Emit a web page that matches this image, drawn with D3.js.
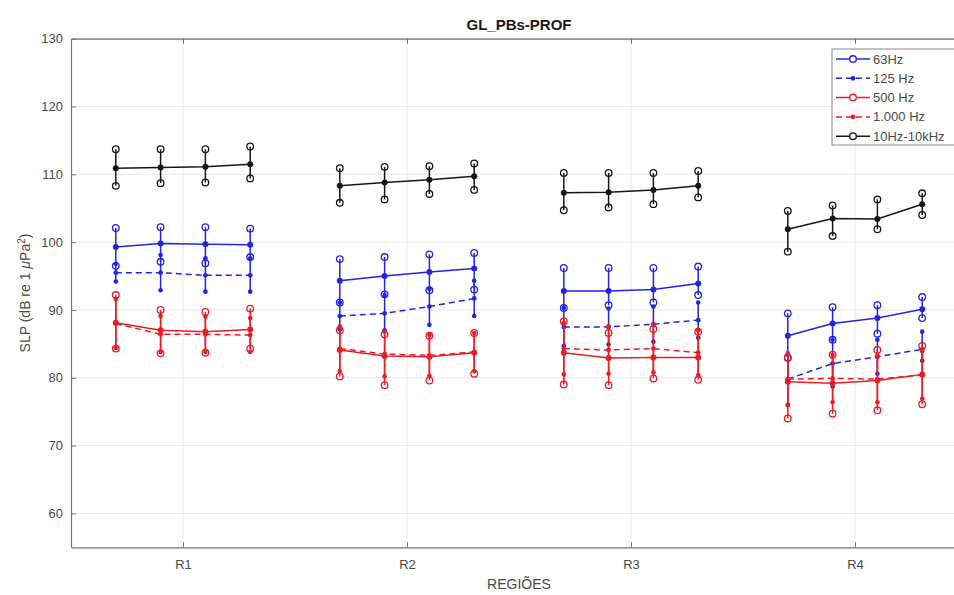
<!DOCTYPE html>
<html>
<head>
<meta charset="utf-8">
<script src="https://cdn.jsdelivr.net/npm/d3@7"></script>
<style>
  html, body { margin: 0; padding: 0; background: #fff; }
  svg { display: block; font-family: "Liberation Sans", Arial, Helvetica, sans-serif; }
</style>
</head>
<body>
<svg id="chart" width="954" height="595"></svg>
<script>
// Regions on the x axis; each region holds four measurement points.
const regions = ["R1", "R2", "R3", "R4"];
const pointOffsets = [-0.3, -0.1, 0.1, 0.3];
const yTicks = [60, 70, 80, 90, 100, 110, 120, 130];

// Mean SLP and the lower / upper ends of each error bar (R1 p1..p4, R2 p1..p4, ...)
const hz63Mean = [99.3, 99.8, 99.7, 99.6,  94.3, 95.0, 95.6, 96.1,  92.8, 92.8, 93.0, 93.9,  86.2, 88.0, 88.8, 90.1];
const hz63Low  = [96.5, 97.1, 96.9, 97.8,  91.1, 92.3, 92.9, 93.0,  90.3, 90.7, 91.1, 92.2,  83.0, 85.6, 86.5, 88.8];
const hz63High = [102.1, 102.2, 102.2, 102.0,  97.5, 97.8, 98.2, 98.4,  96.2, 96.2, 96.2, 96.4,  89.5, 90.4, 90.7, 91.9];

const hz125Mean = [95.5, 95.5, 95.1, 95.1,  89.1, 89.5, 90.5, 91.7,  87.5, 87.5, 87.9, 88.5,  79.8, 82.1, 83.1, 84.2];
const hz125Low  = [94.2, 92.9, 92.7, 92.7,  87.1, 87.0, 87.8, 89.1,  84.7, 84.9, 85.3, 85.9,  76.0, 78.7, 80.6, 82.5];
const hz125High = [96.8, 98.1, 97.6, 97.6,  91.1, 92.2, 93.1, 94.3,  90.3, 90.2, 90.5, 91.1,  83.4, 85.6, 85.6, 86.8];

const hz500Mean = [88.1, 87.0, 86.8, 87.1,  84.1, 83.2, 83.1, 83.7,  83.7, 82.9, 83.0, 83.0,  79.4, 79.2, 79.6, 80.5];
const hz500Low  = [84.3, 83.6, 83.7, 84.3,  80.2, 78.9, 79.6, 80.6,  79.0, 78.9, 79.9, 79.7,  74.0, 74.7, 75.2, 76.1];
const hz500High = [92.2, 90.0, 89.7, 90.2,  87.0, 86.4, 86.2, 86.6,  88.3, 86.6, 87.2, 86.8,  82.9, 83.4, 84.1, 84.7];

const hz1000Mean = [88.0, 86.4, 86.4, 86.3,  84.3, 83.5, 83.3, 83.8,  84.3, 84.1, 84.3, 83.7,  79.8, 79.9, 79.8, 80.4];
const hz1000Low  = [84.4, 83.8, 83.8, 83.8,  81.0, 80.2, 80.3, 81.0,  80.5, 80.6, 80.8, 80.4,  76.0, 76.4, 76.4, 76.9];
const hz1000High = [91.6, 89.1, 89.0, 88.8,  87.6, 86.8, 86.3, 86.6,  88.1, 87.6, 87.8, 87.0,  83.6, 83.4, 83.2, 83.9];

const bbMean = [110.9, 111.0, 111.1, 111.5,  108.3, 108.8, 109.2, 109.7,  107.3, 107.35, 107.7, 108.3,  101.9, 103.5, 103.4, 105.6];
const bbLow  = [108.3, 108.7, 108.8, 109.4,  105.8, 106.3, 107.1, 107.7,  104.7, 105.1, 105.6, 106.6,  98.6, 100.9, 101.9, 104.0];
const bbHigh = [113.7, 113.7, 113.7, 114.1,  110.9, 111.1, 111.2, 111.6,  110.2, 110.2, 110.2, 110.5,  104.6, 105.4, 106.3, 107.2];

const seriesNames = ["63Hz", "125 Hz", "500 Hz", "1.000 Hz", "10Hz-10kHz"];

const series = [
  { name: seriesNames[0], mean: hz63Mean,   low: hz63Low,   high: hz63High,   color: "#2323e8", dashed: false },
  { name: seriesNames[1], mean: hz125Mean,  low: hz125Low,  high: hz125High,  color: "#2323e8", dashed: true  },
  { name: seriesNames[2], mean: hz500Mean,  low: hz500Low,  high: hz500High,  color: "#ec1c24", dashed: false },
  { name: seriesNames[3], mean: hz1000Mean, low: hz1000Low, high: hz1000High, color: "#ec1c24", dashed: true  },
  { name: seriesNames[4], mean: bbMean,     low: bbLow,     high: bbHigh,     color: "#161616", dashed: false }
];

const svg = d3.select("#chart");
const mLeft = 71, mTop = 38.7, mBottom = 547.3, mRight = 967;

const x = d3.scaleLinear().domain([0.5, regions.length + 0.5]).range([mLeft, mRight]);
const y = d3.scaleLinear().domain([55, 130]).range([mBottom, mTop]);

const axisColor = "#737373";
const textColor = "#4a4a4a";

// grid
const grid = svg.append("g");
grid.selectAll("line.gy").data(yTicks).join("line")
  .attr("x1", mLeft).attr("x2", mRight)
  .attr("y1", d => y(d)).attr("y2", d => y(d))
  .attr("stroke", "#e8e8e8").attr("stroke-width", 1);
grid.selectAll("line.gx").data(regions).join("line")
  .attr("x1", (d, i) => x(i + 1)).attr("x2", (d, i) => x(i + 1))
  .attr("y1", mTop).attr("y2", mBottom)
  .attr("stroke", "#e8e8e8").attr("stroke-width", 1);

// axes
const yAxis = d3.axisLeft(y).tickValues(yTicks).tickSizeInner(-5).tickSizeOuter(0).tickPadding(8);
const xAxis = d3.axisBottom(x).tickValues(d3.range(1, regions.length + 1))
  .tickFormat(d => regions[d - 1]).tickSizeInner(-5).tickSizeOuter(0).tickPadding(12);
const xTop = d3.axisTop(x).tickValues(d3.range(1, regions.length + 1))
  .tickFormat("").tickSizeInner(-5).tickSizeOuter(0);

function styleAxis(g) {
  g.select(".domain").attr("stroke", axisColor).attr("stroke-width", 1.2);
  g.selectAll(".tick line").attr("stroke", axisColor).attr("stroke-width", 1);
  g.selectAll(".tick text").attr("fill", textColor).attr("font-size", 13);
}

svg.append("g").attr("transform", `translate(${mLeft},0)`).call(yAxis).call(styleAxis);
svg.append("g").attr("transform", `translate(0,${mBottom})`).call(xAxis).call(styleAxis);
svg.append("g").attr("transform", `translate(0,${mTop})`).call(xTop).call(styleAxis);

// data layers
const plot = svg.append("g");
const px = i => x(Math.floor(i / 4) + 1 + pointOffsets[i % 4]);

series.forEach(s => {
  const g = plot.append("g");
  const idx = d3.range(s.mean.length);

  // error bars
  g.selectAll("line.err").data(idx).join("line")
    .attr("x1", px).attr("x2", px)
    .attr("y1", i => y(s.low[i])).attr("y2", i => y(s.high[i]))
    .attr("stroke", s.color).attr("stroke-width", 1.5);

  // mean lines, one per region
  const line = d3.line().x(i => px(i)).y(i => y(s.mean[i]));
  regions.forEach((r, k) => {
    g.append("path")
      .attr("d", line(d3.range(k * 4, k * 4 + 4)))
      .attr("fill", "none").attr("stroke", s.color).attr("stroke-width", 1.5)
      .attr("stroke-dasharray", s.dashed ? "6,4" : null);
  });

  // error bar ends
  const ends = idx.flatMap(i => [{ i, v: s.low[i] }, { i, v: s.high[i] }]);
  if (s.dashed) {
    g.selectAll("circle.end").data(ends).join("circle")
      .attr("cx", d => px(d.i)).attr("cy", d => y(d.v)).attr("r", 2.3)
      .attr("fill", s.color);
  } else {
    g.selectAll("circle.end").data(ends).join("circle")
      .attr("cx", d => px(d.i)).attr("cy", d => y(d.v)).attr("r", 3.3)
      .attr("fill", "none").attr("stroke", s.color).attr("stroke-width", 1.3);
  }

  // mean markers
  g.selectAll("circle.mean").data(idx).join("circle")
    .attr("cx", px).attr("cy", i => y(s.mean[i])).attr("r", s.dashed ? 2.4 : 3.0)
    .attr("fill", s.color);
});

// title and axis labels
svg.append("text").attr("x", (mLeft + mRight) / 2).attr("y", 30)
  .attr("text-anchor", "middle").attr("font-size", 15).attr("font-weight", "bold")
  .attr("fill", "#1a1a1a").text("GL_PBs-PROF");

svg.append("text").attr("x", (mLeft + mRight) / 2).attr("y", 589)
  .attr("text-anchor", "middle").attr("font-size", 14).attr("fill", textColor)
  .text("REGIÕES");

const yl = svg.append("text")
  .attr("transform", `translate(30,${(mTop + mBottom) / 2}) rotate(-90)`)
  .attr("text-anchor", "middle").attr("font-size", 14).attr("fill", textColor);
yl.append("tspan").text("SLP (dB re 1 ");
yl.append("tspan").attr("font-style", "italic").text("μ");
yl.append("tspan").text("Pa");
yl.append("tspan").attr("baseline-shift", "super").attr("font-size", 10).text("2");
yl.append("tspan").text(")");

// legend
const lg = svg.append("g");
const lgX = 832, lgY = 49;
lg.append("rect").attr("x", lgX).attr("y", lgY).attr("width", 140).attr("height", 96)
  .attr("fill", "#fff").attr("stroke", "#8a8a8a").attr("stroke-width", 1);
series.forEach((s, k) => {
  const cy = 59 + k * 19.3;
  lg.append("line").attr("x1", 836).attr("x2", 870).attr("y1", cy).attr("y2", cy)
    .attr("stroke", s.color).attr("stroke-width", 1.5)
    .attr("stroke-dasharray", s.dashed ? "6,4" : null);
  if (s.dashed) {
    lg.append("circle").attr("cx", 853).attr("cy", cy).attr("r", 2.4).attr("fill", s.color);
  } else {
    lg.append("circle").attr("cx", 853).attr("cy", cy).attr("r", 3.3)
      .attr("fill", "#fff").attr("stroke", s.color).attr("stroke-width", 1.4);
  }
  lg.append("text").attr("x", 873).attr("y", cy + 4.5).attr("font-size", 13)
    .attr("fill", textColor).text(s.name);
});
</script>
</body>
</html>
